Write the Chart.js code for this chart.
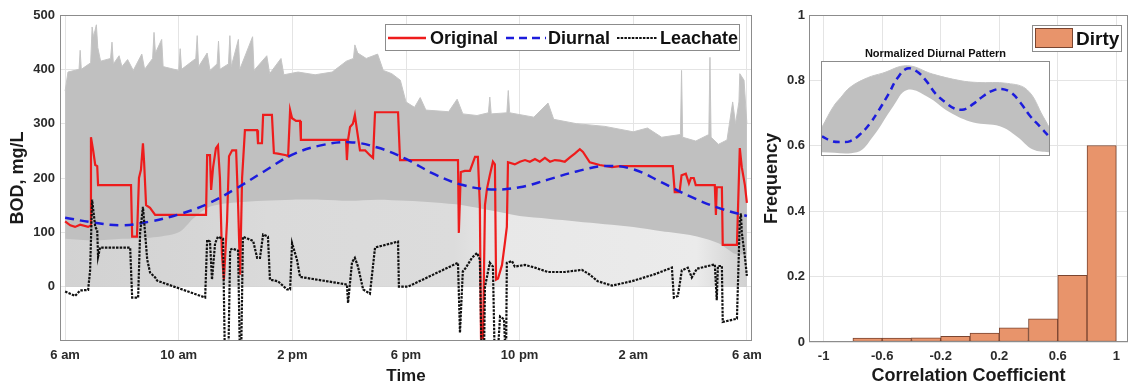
<!DOCTYPE html>
<html><head><meta charset="utf-8">
<script src="https://cdn.jsdelivr.net/npm/chart.js@4.4.1/dist/chart.umd.min.js"></script>
<style>
html,body{margin:0;padding:0;background:#fff;}
body{width:1132px;height:387px;position:relative;overflow:hidden;font-family:"Liberation Sans",Arial,sans-serif;}
canvas{position:absolute;}
.t{position:absolute;font-weight:bold;white-space:nowrap;color:#111;}
.box{position:absolute;box-sizing:border-box;border:1px solid #8c8c8c;background:#fff;}
svg{position:absolute;}
</style></head><body>
<canvas id="main" width="770" height="387" style="left:0;top:0"></canvas>
<canvas id="hist" width="377" height="387" style="left:755px;top:0"></canvas>

<div class="box" style="left:385px;top:24px;width:355px;height:27px"></div>
<svg style="left:388px;top:33px" width="38" height="10"><line x1="0" y1="5" x2="38" y2="5" stroke="#ee1c1c" stroke-width="2.5"/></svg>
<div class="t" style="left:430px;top:24px;line-height:28px;font-size:18px">Original</div>
<svg style="left:506px;top:33px" width="40" height="10"><line x1="0" y1="5" x2="40" y2="5" stroke="#1c1cdc" stroke-width="2.5" stroke-dasharray="8 5"/></svg>
<div class="t" style="left:548px;top:24px;line-height:28px;font-size:18px">Diurnal</div>
<svg style="left:617px;top:33px" width="40" height="10"><line x1="0" y1="5" x2="40" y2="5" stroke="#111" stroke-width="2.2" stroke-dasharray="2.5 1.2"/></svg>
<div class="t" style="left:660px;top:24px;line-height:28px;font-size:18px">Leachate</div>

<div class="box" style="left:1032px;top:25px;width:90px;height:27px"></div>
<div style="position:absolute;left:1035px;top:28px;width:38px;height:20px;box-sizing:border-box;background:#e8946b;border:1px solid #7a4530"></div>
<div class="t" style="left:1076px;top:25px;line-height:27px;font-size:19px">Dirty</div>

<div class="t" style="left:821px;top:46px;width:229px;text-align:center;font-size:11px;line-height:14px">Normalized Diurnal Pattern</div>
<div class="box" style="left:821px;top:61px;width:229px;height:95px;"><canvas id="inset" width="227" height="93" style="left:0;top:0"></canvas></div>

<script>
// ---------- DATA ----------
const timeTickHours = [0, 4, 8, 12, 16, 20, 24];
const timeTickLabels = ['6 am', '10 am', '2 pm', '6 pm', '10 pm', '2 am', '6 am'];
const bodTicks = [0, 100, 200, 300, 400, 500];

const originalHours = [0,0.18,0.35,0.53,0.81,0.88,0.91,0.99,1.06,1.13,1.16,2.32,2.36,2.53,2.6,2.67,2.74,2.78,2.85,2.99,3.06,3.17,4.96,5.0,5.1,5.14,5.21,5.31,5.38,5.45,5.52,5.59,5.7,5.77,5.88,6.02,6.09,6.16,6.23,6.33,6.76,6.79,6.93,6.97,7.28,7.35,7.49,7.78,7.85,7.92,7.99,8.13,8.27,8.3,9.89,9.92,9.96,10.03,10.13,10.2,10.27,10.38,10.56,10.73,10.84,10.91,11.72,11.79,13.83,13.86,13.93,14.07,14.25,14.43,14.53,14.6,14.64,14.71,14.78,14.85,14.95,15.06,15.13,15.17,15.24,15.38,15.48,15.55,15.59,15.83,16.01,16.19,16.36,16.54,16.71,16.89,17.07,17.24,17.42,17.59,17.77,17.94,18.12,18.23,18.47,18.82,19.25,19.53,21.39,21.46,21.63,21.7,21.85,21.96,22.03,22.13,22.2,22.87,22.91,22.94,23.12,23.15,23.65,23.75,23.82,23.93,24.0];
const originalBOD = [120,113,110,114,110,112,275,250,224,222,187,187,92,92,200,215,264,230,150,145,140,132,132,242,242,178,220,255,260,200,60,13,120,240,251,251,150,22,200,288,288,264,264,316,316,246,245,242,240,325,310,305,305,270,270,233,270,294,300,316,290,251,251,242,237,321,321,233,233,99,211,213,213,239,239,150,-95,-95,150,180,205,230,225,13,15,40,80,110,229,225,230,233,230,235,230,237,230,233,232,230,238,245,253,248,229,224,220,222,222,174,174,205,208,190,200,200,187,187,132,183,183,77,77,255,220,187,154];

const leachateHours = [0,0.18,0.35,0.53,0.81,0.88,0.95,1.06,1.13,1.16,1.23,2.29,2.36,2.57,2.64,2.74,2.89,2.99,3.17,3.24,4.93,5.0,5.1,5.17,5.28,5.38,5.56,5.63,5.74,5.81,5.91,6.09,6.16,6.19,6.26,6.44,6.62,6.76,6.86,6.97,7.14,7.21,7.49,7.81,7.92,7.99,8.16,8.27,9.92,9.96,10.1,10.2,10.31,10.49,10.73,10.91,11.72,11.75,12.07,13.83,13.9,14.0,14.11,14.32,14.5,14.6,14.67,14.74,14.78,14.85,14.95,15.06,15.13,15.2,15.31,15.45,15.52,15.55,15.73,15.83,16.19,16.54,16.99,17.59,18.19,18.47,18.75,19.25,19.95,20.76,21.36,21.43,21.57,21.71,21.92,22.06,22.24,22.87,22.94,22.98,23.12,23.15,23.65,23.75,23.79,23.82,23.93,24.0];
const leachateBOD = [-9,-13,-17,-7,-6,30,160,110,104,55,72,72,-20,-20,99,147,50,26,17,11,-20,86,83,13,80,92,88,-150,-150,68,70,66,-150,-150,92,88,84,53,53,96,92,13,10,-5,-5,80,50,18,4,-30,45,53,37,-5,-13,72,83,0,0,44,-85,28,35,53,62,50,-150,-150,0,18,44,37,-150,-150,-55,-60,-150,44,47,37,40,35,27,27,31,22,10,2,10,23,35,-20,-17,30,35,17,33,41,-25,38,38,-65,-59,121,135,100,55,20];

const diurnalHours = [0,1,2,3,4,5,6,7,8,9,10,11,12,13,14,15,16,17,18,19,20,21,22,23,24];
const diurnalBOD = [127,118,113,120,133,152,180,212,243,260,266,256,235,207,187,179,183,197,212,222,216,192,166,145,130];

const bandUpperHours = [0,0.1,0.49,0.53,0.57,0.9,0.95,1.0,1.1,1.15,1.25,1.6,1.65,1.7,1.9,2.0,2.2,2.4,2.7,2.8,3.08,3.13,3.18,3.4,3.45,4.0,4.05,4.1,4.6,4.65,4.7,5.0,5.1,5.35,5.4,5.45,5.75,5.8,5.85,6.1,6.15,6.6,6.65,7.1,7.2,7.6,7.7,8.2,8.8,9.4,9.9,10.15,10.2,10.3,10.6,11.0,11.2,11.5,11.8,12.0,12.3,12.5,12.7,13.5,13.8,14.0,14.5,14.9,14.95,15.0,15.55,15.6,15.65,16.5,17.0,17.2,18.0,19.0,20.0,20.5,21.0,21.66,21.7,21.74,22.2,22.66,22.7,22.74,23.0,23.3,23.5,23.6,23.72,23.75,23.9,24.0];
const bandUpperBOD = [360,395,400,435,400,412,478,460,482,440,415,420,450,410,425,405,418,398,428,400,420,468,430,455,405,398,438,400,420,462,405,430,398,410,452,400,410,462,405,455,400,460,398,425,392,420,390,395,390,395,415,420,445,430,420,428,398,392,380,340,330,348,325,322,345,318,315,320,349,318,320,361,320,312,338,308,300,295,285,292,275,280,398,275,268,280,422,275,262,270,340,300,340,392,380,300];

const bandLowerHours = [0,1,2,3,4,4.5,5,5.5,6,7,8,9,10,11,12,13,14,15,16,17,18,19,20,21,22,23,23.6,24];
const bandLowerBOD = [88,85,88,90,100,125,145,152,155,158,160,160,158,160,158,155,150,140,130,125,120,115,110,102,95,80,60,60];

const corrBinCenters = [-0.7,-0.5,-0.3,-0.1,0.1,0.3,0.5,0.7,0.9];
const corrFrequency = [0.012,0.012,0.013,0.017,0.027,0.043,0.071,0.204,0.601];
const corrTicks = [-1, -0.6, -0.2, 0.2, 0.6, 1];
const freqTicks = [0, 0.2, 0.4, 0.6, 0.8, 1];

const insetHours = [0,1,2,3,4,5,6,7,8,9,10,11,12,13,14,15,16,17,18,19,20,21,22,23,24];
const insetDiurnal = [0.20,0.15,0.14,0.15,0.22,0.33,0.48,0.65,0.83,0.93,0.90,0.80,0.66,0.57,0.50,0.49,0.55,0.63,0.69,0.71,0.67,0.56,0.42,0.31,0.20];
const insetUpperHours = [0,1.2,2,3,4.8,6.4,9,11.7,14.6,16.4,19.6,21.7,23.4,24];
const insetUpper = [0.30,0.52,0.62,0.73,0.83,0.88,0.96,0.87,0.80,0.78,0.77,0.70,0.41,0.30];
const insetLowerHours = [0,3.7,5.4,7.5,9,11.1,13.5,16,18.8,20.6,22.3,24];
const insetLower = [0.03,0.03,0.20,0.52,0.70,0.63,0.46,0.35,0.31,0.20,0.06,0.03];

// ---------- HELPERS ----------
const FONT = '"Liberation Sans", Arial, sans-serif';
const pts = (xs, ys) => xs.map((x, i) => ({x: x, y: ys[i]}));
const tickFont = {size: 13, weight: 'bold', family: FONT};
const titleFont = {size: 18, weight: 'bold', family: FONT};
const GRID = '#e4e4e4';
const TICKC = '#2b2b2b';

const frame = {
  id: 'frame',
  afterDatasetsDraw(chart, args, opts) {
    const {ctx, chartArea: a} = chart;
    ctx.save();
    ctx.strokeStyle = opts.color || '#8c8c8c';
    ctx.lineWidth = 1;
    ctx.strokeRect(Math.round(a.left) + 0.5, Math.round(a.top) + 0.5,
                   Math.round(a.right - a.left) - 1, Math.round(a.bottom - a.top) - 1);
    ctx.restore();
  }
};

function mixedFill(context) {
  const chart = context.chart;
  const a = chart.chartArea;
  if (!a) return '#dadada';
  const g = chart.ctx.createLinearGradient(a.left, 0, a.right, 0);
  g.addColorStop(0, '#d2d2d2');
  g.addColorStop(0.2, '#d6d6d6');
  g.addColorStop(0.3, '#dadada');
  g.addColorStop(0.57, '#dcdcdc');
  g.addColorStop(0.64, '#e8e8e8');
  g.addColorStop(0.92, '#ebebeb');
  g.addColorStop(0.97, '#d8d8d8');
  g.addColorStop(1, '#d0d0d0');
  return g;
}

// ---------- MAIN TIME SERIES ----------
new Chart(document.getElementById('main'), {
  type: 'line',
  data: {datasets: [
    {label: 'Leachate', data: pts(leachateHours, leachateBOD), borderColor: '#111', borderWidth: 2.2,
     borderDash: [2.5, 1.2], pointRadius: 0, fill: false, order: 0},
    {label: 'Diurnal', data: pts(diurnalHours, diurnalBOD), borderColor: '#1c1cdc', borderWidth: 2.5,
     borderDash: [9, 6], pointRadius: 0, fill: false, tension: 0.4, order: 1},
    {label: 'Original', data: pts(originalHours, originalBOD), borderColor: '#ee1c1c', borderWidth: 2.2,
     pointRadius: 0, fill: false, order: 2},
    {label: 'mixed', data: pts(bandLowerHours, bandLowerBOD), borderWidth: 0, pointRadius: 0,
     fill: {value: 0}, backgroundColor: mixedFill, tension: 0.3, order: 3},
    {label: 'band', data: pts(bandUpperHours, bandUpperBOD), borderColor: '#c4c4c4', borderWidth: 1,
     pointRadius: 0, fill: {value: 0}, backgroundColor: '#c0c0c0', order: 4}
  ]},
  options: {
    responsive: false, animation: false, events: [],
    layout: {padding: {left: 0, right: 18, top: 15, bottom: 0}},
    plugins: {legend: {display: false}, tooltip: {enabled: false}, frame: {color: '#8c8c8c'}},
    scales: {
      x: {type: 'linear', min: -0.18, max: 24.18,
        afterBuildTicks: s => { s.ticks = timeTickHours.map(v => ({value: v})); },
        afterFit: s => { s.height = 46; },
        ticks: {callback: (v, i) => timeTickLabels[i], padding: 7, font: tickFont, color: TICKC, maxRotation: 0, autoSkip: false},
        grid: {color: GRID, drawTicks: false}, border: {display: false},
        title: {display: true, text: 'Time', font: {size: 17, weight: 'bold', family: FONT}, color: '#1a1a1a', padding: {top: 0, bottom: 0}}},
      y: {min: -100, max: 500,
        afterBuildTicks: s => { s.ticks = bodTicks.map(v => ({value: v})); },
        afterFit: s => { s.width = 60; },
        ticks: {callback: v => String(v), padding: 5, font: tickFont, color: TICKC},
        grid: {color: GRID, drawTicks: false}, border: {display: false},
        title: {display: true, text: 'BOD, mg/L', font: titleFont, color: '#1a1a1a', padding: {top: 7, bottom: 0}}}
    }
  },
  plugins: [frame]
});

// ---------- HISTOGRAM ----------
new Chart(document.getElementById('hist'), {
  type: 'bar',
  data: {datasets: [{label: 'Dirty', data: pts(corrBinCenters, corrFrequency),
    backgroundColor: '#e8946b', borderColor: '#7a4530', borderWidth: 1, borderSkipped: false,
    barPercentage: 1, categoryPercentage: 1}]},
  options: {
    responsive: false, animation: false, events: [],
    layout: {padding: {left: 0, right: 4, top: 15, bottom: 0}},
    plugins: {legend: {display: false}, tooltip: {enabled: false}, frame: {color: '#8c8c8c'}},
    scales: {
      x: {type: 'linear', min: -1.1, max: 1.08, offset: false,
        afterBuildTicks: s => { s.ticks = corrTicks.map(v => ({value: v})); },
        afterFit: s => { s.height = 45; },
        ticks: {callback: v => String(v), padding: 7, font: tickFont, color: TICKC, maxRotation: 0, autoSkip: false},
        grid: {color: GRID, drawTicks: false, offset: false}, border: {display: false},
        title: {display: true, text: 'Correlation Coefficient', font: titleFont, color: '#1a1a1a', padding: {top: 0, bottom: 0}}},
      y: {min: 0, max: 1,
        afterBuildTicks: s => { s.ticks = freqTicks.map(v => ({value: v})); },
        afterFit: s => { s.width = 54; },
        ticks: {callback: v => String(v), padding: 4, font: tickFont, color: TICKC},
        grid: {color: GRID, drawTicks: false}, border: {display: false},
        title: {display: true, text: 'Frequency', font: titleFont, color: '#1a1a1a', padding: {top: 6, bottom: 0}}}
    }
  },
  plugins: [frame]
});

// ---------- INSET ----------
new Chart(document.getElementById('inset'), {
  type: 'line',
  data: {datasets: [
    {data: pts(insetHours, insetDiurnal), borderColor: '#1c1cdc', borderWidth: 2.5, borderDash: [7, 5],
     pointRadius: 0, fill: false, tension: 0.4, order: 0},
    {data: pts(insetLowerHours, insetLower), borderWidth: 0, pointRadius: 0, fill: {value: 0},
     backgroundColor: '#ffffff', tension: 0.4, order: 1},
    {data: pts(insetUpperHours, insetUpper), borderColor: '#c4c4c4', borderWidth: 1, pointRadius: 0,
     fill: {value: 0}, backgroundColor: '#c0c0c0', tension: 0.4, order: 2}
  ]},
  options: {
    responsive: false, animation: false, events: [],
    layout: {padding: 0},
    plugins: {legend: {display: false}, tooltip: {enabled: false}},
    scales: {x: {type: 'linear', min: 0, max: 24, display: false},
             y: {min: 0, max: 1, display: false}}
  }
});
</script>
</body></html>
